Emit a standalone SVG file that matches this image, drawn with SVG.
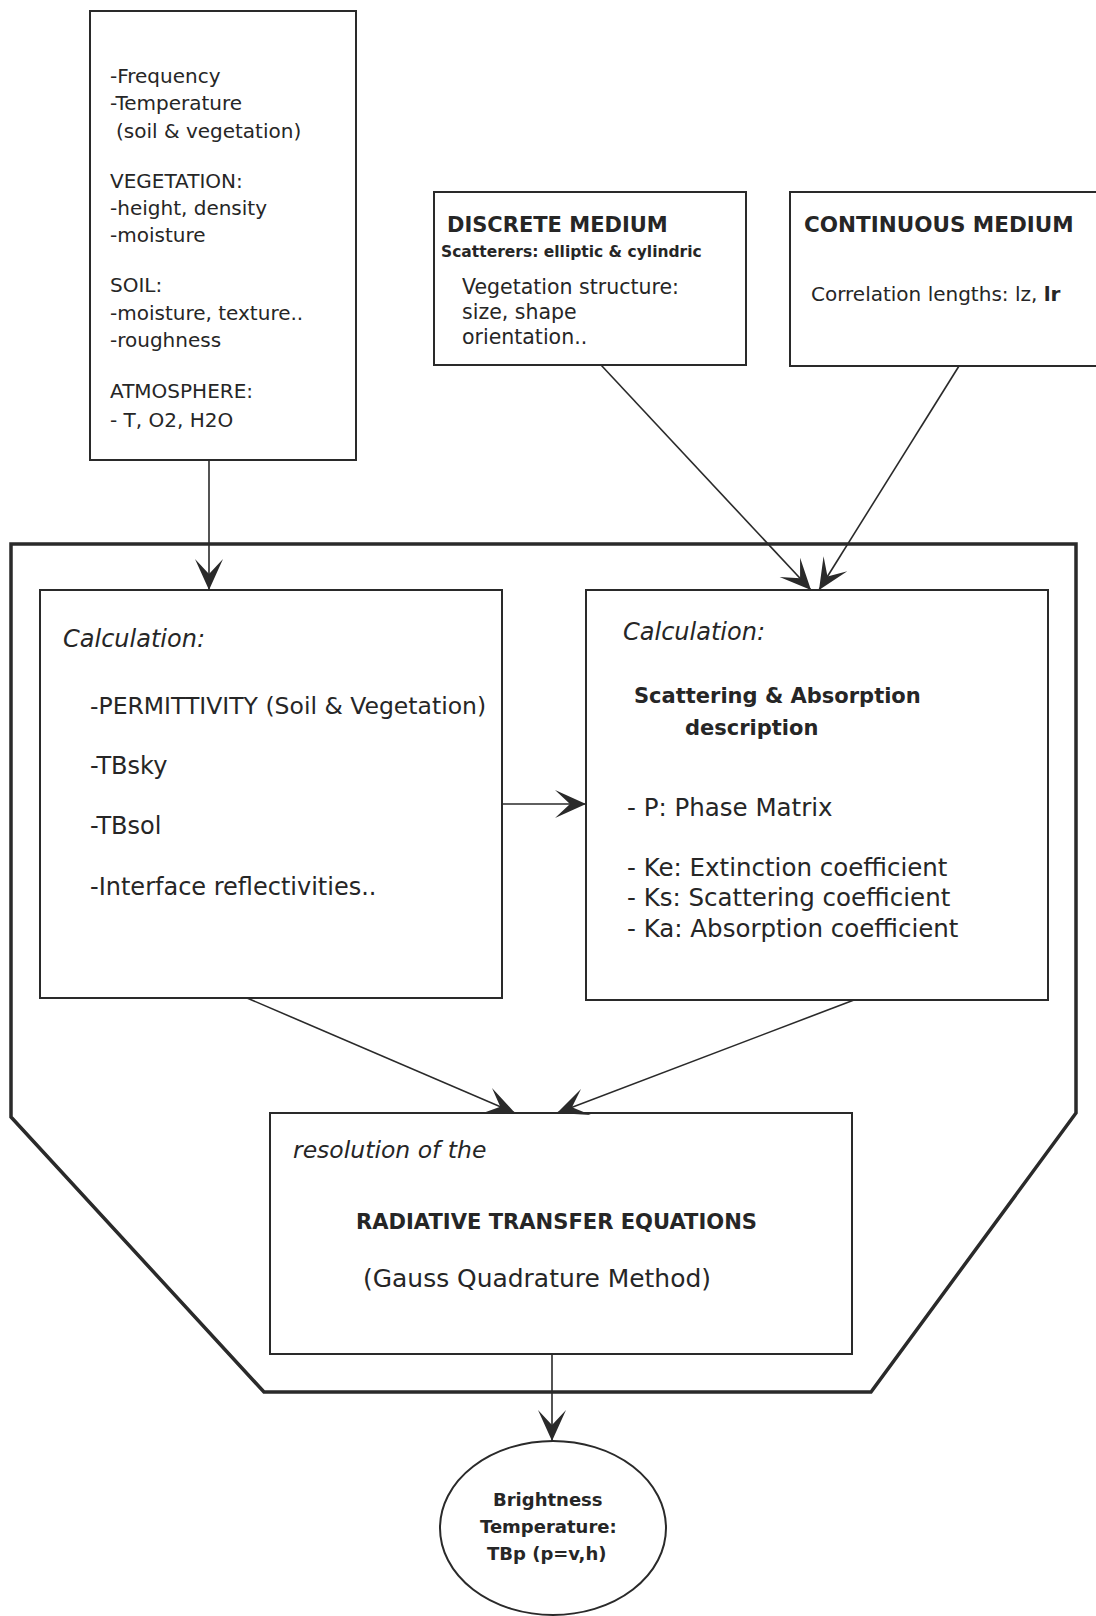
<svg xmlns="http://www.w3.org/2000/svg" width="1096" height="1616" viewBox="0 0 1096 1616">
<style>
  text { font-family: "DejaVu Sans", "Liberation Sans", sans-serif; fill: #262626; }
  .box { fill: #ffffff; stroke: #2a2a2a; stroke-width: 2; }
  .outer { fill: none; stroke: #2a2a2a; stroke-width: 3.5; }
  .conn { fill: none; stroke: #2a2a2a; stroke-width: 1.6; }
  .t20 { font-size: 20px; }
  .t24 { font-size: 24px; }
  .it { font-style: italic; }
  .b { font-weight: bold; }
</style>
<defs>
  <marker id="arr" viewBox="-34 -17 36 34" refX="0" refY="0" markerWidth="36" markerHeight="34" markerUnits="userSpaceOnUse" orient="auto">
    <path d="M0,0 L-31,-14 L-16,0 L-31,14 Z" fill="#2a2a2a"/>
  </marker>
</defs>
<rect width="1096" height="1616" fill="#ffffff"/>

<g id="container">
  <polygon class="outer" points="11,544 1076,544 1076,1113 871,1392 264,1392 11,1117"/>
</g>

<g id="inputs">
  <rect class="box" x="90" y="11" width="266" height="449"/>
  <text class="t20" x="110" y="83">-Frequency</text>
  <text class="t20" x="110" y="110">-Temperature</text>
  <text class="t20" x="116" y="138">(soil &amp; vegetation)</text>
  <text class="t20" x="110" y="188">VEGETATION:</text>
  <text class="t20" x="110" y="215">-height, density</text>
  <text class="t20" x="110" y="242">-moisture</text>
  <text class="t20" x="110" y="292">SOIL:</text>
  <text class="t20" x="110" y="320">-moisture, texture..</text>
  <text class="t20" x="110" y="347">-roughness</text>
  <text class="t20" x="110" y="398">ATMOSPHERE:</text>
  <text class="t20" x="110" y="427">- T, O2, H2O</text>
</g>

<g id="discrete">
  <rect class="box" x="434" y="192" width="312" height="173"/>
  <text class="b" font-size="21" x="447" y="232">DISCRETE MEDIUM</text>
  <text class="b" font-size="15.5" x="441" y="257">Scatterers: elliptic &amp; cylindric</text>
  <text font-size="20.5" x="462" y="294">Vegetation structure:</text>
  <text font-size="20.5" x="462" y="319">size, shape</text>
  <text font-size="20.5" x="462" y="344">orientation..</text>
</g>

<g id="continuous">
  <rect class="box" x="790" y="192" width="320" height="174"/>
  <text class="b" font-size="21.5" x="804" y="232">CONTINUOUS MEDIUM</text>
  <text class="t20" x="811" y="301">Correlation lengths: lz, <tspan class="b">lr</tspan></text>
</g>

<g id="calc-left">
  <rect class="box" x="40" y="590" width="462" height="408"/>
  <text class="t24 it" x="63" y="647">Calculation:</text>
  <text font-size="23.5" x="90" y="714">-PERMITTIVITY (Soil &amp; Vegetation)</text>
  <text class="t24" x="90" y="774">-TBsky</text>
  <text class="t24" x="90" y="834">-TBsol</text>
  <text class="t24" x="90" y="895">-Interface reflectivities..</text>
</g>

<g id="calc-right">
  <rect class="box" x="586" y="590" width="462" height="410"/>
  <text class="t24 it" x="623" y="640">Calculation:</text>
  <text class="b" font-size="21" x="634" y="703">Scattering &amp; Absorption</text>
  <text class="b" font-size="21" x="685" y="735">description</text>
  <text font-size="24.5" x="627" y="816">- P: Phase Matrix</text>
  <text font-size="24.5" x="627" y="876">- Ke: Extinction coefficient</text>
  <text font-size="24.5" x="627" y="906">- Ks: Scattering coefficient</text>
  <text font-size="24.5" x="627" y="937">- Ka: Absorption coefficient</text>
</g>

<g id="resolution">
  <rect class="box" x="270" y="1113" width="582" height="241"/>
  <text class="it" font-size="23.5" x="293" y="1158">resolution of the</text>
  <text class="b" font-size="22" x="356" y="1229" textLength="401" lengthAdjust="spacingAndGlyphs">RADIATIVE TRANSFER  EQUATIONS</text>
  <text font-size="24" x="363" y="1287" textLength="348" lengthAdjust="spacingAndGlyphs">(Gauss Quadrature Method)</text>
</g>

<g id="brightness">
  <ellipse class="box" cx="553" cy="1528" rx="113" ry="87"/>
  <text class="b" font-size="18" x="493" y="1506">Brightness</text>
  <text class="b" font-size="18" x="480" y="1533">Temperature:</text>
  <text class="b" font-size="18" x="487" y="1560">TBp (p=v,h)</text>
</g>

<g id="connectors">
  <line class="conn" x1="209" y1="460" x2="209" y2="590" marker-end="url(#arr)"/>
  <line class="conn" x1="601" y1="365" x2="811" y2="590" marker-end="url(#arr)"/>
  <line class="conn" x1="959" y1="366" x2="819" y2="590" marker-end="url(#arr)"/>
  <line class="conn" x1="502" y1="804" x2="586" y2="804" marker-end="url(#arr)"/>
  <line class="conn" x1="247" y1="998" x2="515" y2="1113" marker-end="url(#arr)"/>
  <line class="conn" x1="854" y1="1000" x2="557" y2="1113" marker-end="url(#arr)"/>
  <line class="conn" x1="552" y1="1354" x2="552" y2="1441" marker-end="url(#arr)"/>
</g>
</svg>
